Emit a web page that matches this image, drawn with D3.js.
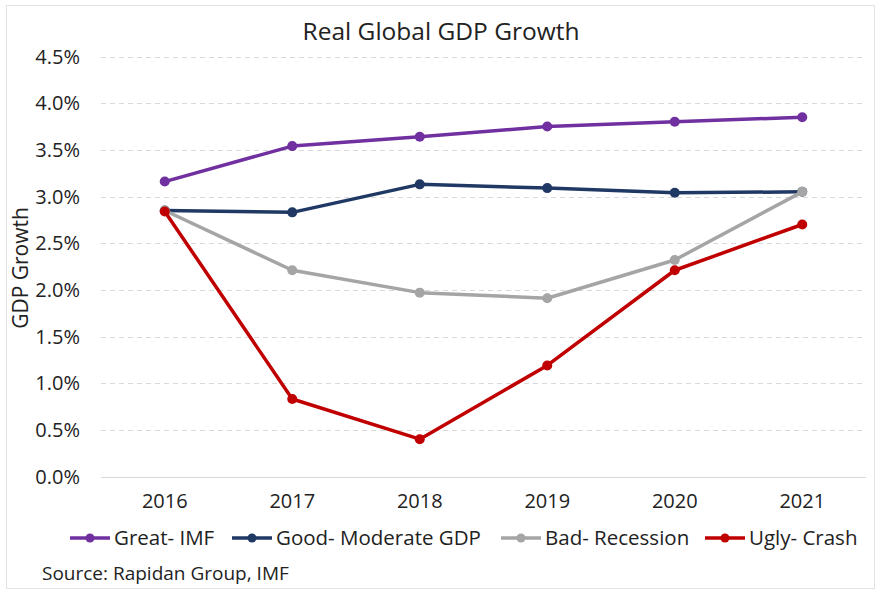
<!DOCTYPE html>
<html>
<head>
<meta charset="utf-8">
<script src="https://cdn.jsdelivr.net/npm/d3@7"></script>
<style>
  body { margin: 0; background: #fff; }
  svg text { font-family: "Open Sans", "Noto Sans", sans-serif; fill: #222; }
</style>
</head>
<body>
<div id="chart1"></div>
<script>
var w = 880;
var h = 591;

var years = ["2016", "2017", "2018", "2019", "2020", "2021"];
var great = [3.16, 3.54, 3.64, 3.75, 3.80, 3.85];
var good = [2.85, 2.83, 3.13, 3.09, 3.04, 3.05];
var bad = [2.85, 2.21, 1.97, 1.91, 2.32, 3.05];
var ugly = [2.84, 0.83, 0.40, 1.19, 2.21, 2.70];
var seriesNames = ["Great- IMF", "Good- Moderate GDP", "Bad- Recession", "Ugly- Crash"];
var seriesColors = ["#7030A0", "#1F3864", "#A5A5A5", "#C00000"];
var yTicks = [0, 0.5, 1, 1.5, 2, 2.5, 3, 3.5, 4, 4.5];

var series = [great, good, bad, ugly];

//xScale
var xScale = d3.scaleBand()
               .domain(years)
               .range([101, 866]);
//yScale
var yScale = d3.scaleLinear()
               .domain([0, 4.5])
               .range([476.5, 56.5]);

var svg1 = d3.select("#chart1")
             .append("svg")
             .attr("width", w)
             .attr("height", h);

// outer border
svg1.append("rect")
    .attr("x", 6.5).attr("y", 5.5)
    .attr("width", 868).attr("height", 583)
    .attr("fill", "#fff")
    .attr("stroke", "#e3e3e3");

// title
svg1.append("text")
    .attr("x", 441).attr("y", 40)
    .attr("text-anchor", "middle")
    .attr("font-size", "24.5px")
    .text("Real Global GDP Growth");

// gridlines
svg1.selectAll(".grid")
    .data(yTicks)
    .enter()
    .append("line")
    .attr("x1", 101).attr("x2", 866)
    .attr("y1", d => Math.round(yScale(d)) + 0.5)
    .attr("y2", d => Math.round(yScale(d)) + 0.5)
    .attr("stroke", "#d9d9d9")
    .attr("stroke-width", 1)
    .attr("stroke-dasharray", d => d === 0 ? null : "5,4");

// y axis labels
svg1.selectAll(".ylab")
    .data(yTicks)
    .enter()
    .append("text")
    .attr("x", 80)
    .attr("y", d => yScale(d) + 7)
    .attr("text-anchor", "end")
    .attr("font-size", "20px")
    .text(d => d3.format(".1f")(d) + "%");

// x axis labels
svg1.selectAll(".xlab")
    .data(years)
    .enter()
    .append("text")
    .attr("x", d => xScale(d) + xScale.bandwidth() / 2)
    .attr("y", 508)
    .attr("text-anchor", "middle")
    .attr("font-size", "20px")
    .text(d => d);

// y axis title
svg1.append("text")
    .attr("transform", "translate(28,268) rotate(-90)")
    .attr("text-anchor", "middle")
    .attr("font-size", "21px")
    .text("GDP Growth");

var line = d3.line()
             .x((d, i) => xScale(years[i]) + xScale.bandwidth() / 2)
             .y(d => yScale(d));

series.forEach(function(vals, k) {
  var g = svg1.append("g");
  g.append("path")
   .datum(vals)
   .attr("d", line)
   .attr("fill", "none")
   .attr("stroke", seriesColors[k])
   .attr("stroke-width", 3.5)
   .attr("stroke-linejoin", "round");
  g.selectAll("circle")
   .data(vals)
   .enter()
   .append("circle")
   .attr("cx", (d, i) => xScale(years[i]) + xScale.bandwidth() / 2)
   .attr("cy", d => yScale(d))
   .attr("r", 5)
   .attr("fill", seriesColors[k]);
});

// legend
var legendX = [70, 232, 501, 705];
var legend = svg1.selectAll(".legend")
                 .data(seriesNames)
                 .enter()
                 .append("g")
                 .attr("transform", (d, i) => "translate(" + legendX[i] + ",538)");
legend.append("line")
      .attr("x1", 0).attr("x2", 40)
      .attr("stroke", (d, i) => seriesColors[i])
      .attr("stroke-width", 3.5);
legend.append("circle")
      .attr("cx", 20).attr("r", 4.5)
      .attr("fill", (d, i) => seriesColors[i]);
legend.append("text")
      .attr("x", 44).attr("y", 7)
      .attr("font-size", "20.5px")
      .text(d => d);

// source
svg1.append("text")
    .attr("x", 42).attr("y", 580)
    .attr("font-size", "19px")
    .text("Source: Rapidan Group, IMF");
</script>
</body>
</html>
